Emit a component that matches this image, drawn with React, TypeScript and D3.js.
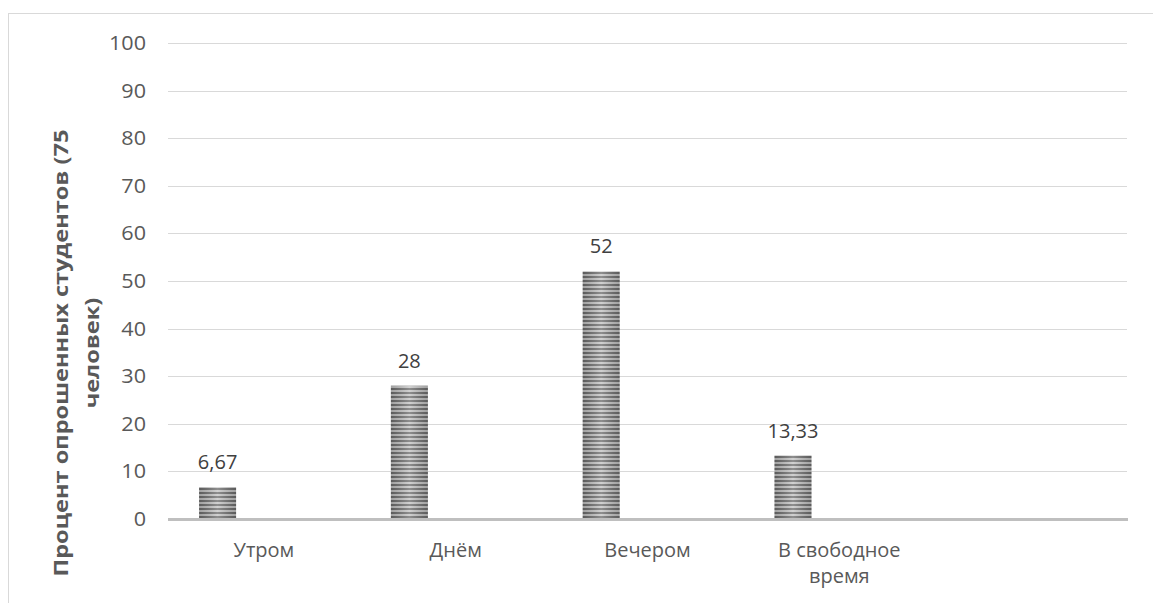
import React from "react";
import * as d3 from "d3";

const categories = ["Утром", "Днём", "Вечером", "В свободное время", ""];
const categoryLines = [["Утром"], ["Днём"], ["Вечером"], ["В свободное", "время"], []];
const values: (number | null)[] = [6.67, 28, 52, 13.33, null];
const valueLabels = ["6,67", "28", "52", "13,33", ""];
const yTicks = [0, 10, 20, 30, 40, 50, 60, 70, 80, 90, 100];
const yTitleLines = ["Процент опрошенных студентов (75", "человек)"];

const W = 1153;
const H = 603;
const M = { left: 168, right: 1127, top: 43, bottom: 519 };
const FONT = "'Open Sans', 'Noto Sans', sans-serif";
const TEXT = "#595959";

export default function App() {
  const x = d3
    .scaleBand<number>()
    .domain(categories.map((_, i) => i))
    .range([M.left, M.right])
    .padding(0);
  const y = d3.scaleLinear().domain([0, 100]).range([M.bottom, M.top]);
  const bw = x.bandwidth();
  const barOff = bw * 0.162;
  const barW = bw * 0.193;

  return (
    <svg
      width={W}
      height={H}
      style={{ position: "absolute", left: 0, top: 0, background: "#fff" }}
      fontFamily={FONT}
    >
      <defs>
        <pattern id="stripes" patternUnits="userSpaceOnUse" width={8} height={4}>
          <rect width={8} height={4} fill="#c4c4c4" />
          <rect width={8} height={2} y={0} fill="#6f6f6f" />
        </pattern>
        <linearGradient id="shade" x1="0" x2="1" y1="0" y2="0">
          <stop offset="0" stopColor="#000" stopOpacity={0.18} />
          <stop offset="0.5" stopColor="#fff" stopOpacity={0.22} />
          <stop offset="1" stopColor="#000" stopOpacity={0.18} />
        </linearGradient>
      </defs>
      <rect x={8.5} y={13.5} width={1150} height={600} fill="#fff" stroke="#d9d9d9" strokeWidth={1} />

      {yTicks.map((t) => (
        <g key={t}>
          {t !== 0 && (
            <line x1={M.left} x2={M.right} y1={Math.round(y(t)) + 0.5} y2={Math.round(y(t)) + 0.5} stroke="#d9d9d9" strokeWidth={1} />
          )}
          <text x={146} y={y(t)} dy="0.35em" textAnchor="end" fontSize={20} fill={TEXT} transform={`translate(146,0) scale(1.08,1) translate(-146,0)`}>
            {t}
          </text>
        </g>
      ))}

      {values.map((v, i) =>
        v == null ? null : (
          <g key={i}>
            <rect x={x(i)! + barOff} y={y(v)} width={barW} height={y(0) - y(v)} fill="url(#stripes)" />
            <rect x={x(i)! + barOff} y={y(v)} width={barW} height={y(0) - y(v)} fill="url(#shade)" />
            <text x={x(i)! + barOff + barW / 2} y={y(v) - 18} textAnchor="middle" fontSize={20} fill="#404040">
              {valueLabels[i]}
            </text>
          </g>
        )
      )}

      <line x1={M.left} x2={M.right + 1} y1={y(0) + 0.5} y2={y(0) + 0.5} stroke="#bfbfbf" strokeWidth={3} />

      {categoryLines.map((lines, i) => (
        <text key={i} textAnchor="middle" fontSize={20} fill={TEXT}>
          {lines.map((l, j) => (
            <tspan key={j} x={x(i)! + bw / 2} y={557 + j * 26}>
              {l}
            </tspan>
          ))}
        </text>
      ))}

      <g transform="translate(0,353) rotate(-90) scale(1.18,1)">
        {yTitleLines.map((l, j) => (
          <text key={j} x={0} y={68 + j * 31} textAnchor="middle" fontSize={20} fontWeight="bold" fill={TEXT}>
            {l}
          </text>
        ))}
      </g>
    </svg>
  );
}
